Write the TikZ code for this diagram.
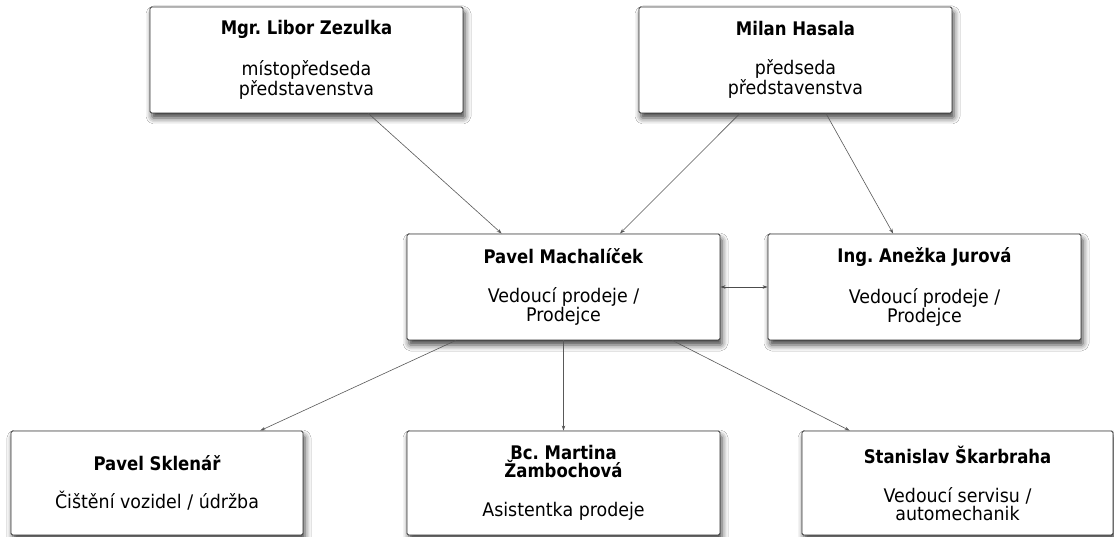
\documentclass[tikz,border=0pt]{standalone}
\usepackage{fontspec}
\setmainfont{DejaVu Sans}[FakeStretch=0.93, BoldFeatures={FakeStretch=0.88}]
\frenchspacing
\usetikzlibrary{arrows.meta,calc,shadows.blur}
\begin{document}
\begin{tikzpicture}[x=1pt,y=-1pt,
  box/.style={draw=black!80, line width=0.9pt, rounded corners=1.5pt, fill=white,
    minimum height=106pt, inner sep=0pt, align=center,
    font=\fontsize{18.75}{18}\selectfont,
    blur shadow={shadow xshift=2pt, shadow yshift=-5pt, shadow blur radius=6pt, shadow opacity=75}},
  conn/.style={draw=black!65, line width=0.6pt, -{Stealth[length=5pt,width=3.5pt]}},
  biconn/.style={draw=black!70, line width=0.6pt, {Stealth[length=5pt,width=3.5pt]}-{Stealth[length=5pt,width=3.5pt]}}
]
\useasboundingbox (0,0) rectangle (1114,537);
\fill[white] (0,0) rectangle (1114,537);

\node[box, minimum width=313pt] (zez) at (306.5,60) {\textbf{Mgr. Libor Zezulka}\\[21pt]místopředseda\\představenstva};
\node[box, minimum width=313pt] (has) at (795.5,60) {\textbf{Milan Hasala}\\[21pt]předseda\\představenstva};
\node[box, minimum width=313pt] (mach) at (563.5,287) {\textbf{Pavel Machalíček}\\[21pt]Vedoucí prodeje /\\Prodejce};
\node[box, minimum width=313pt] (jur) at (924.5,287) {\textbf{Ing. Anežka Jurová}\\[21pt]Vedoucí prodeje /\\Prodejce};
\node[box, minimum width=292pt, minimum height=104pt] (skl) at (157,483) {\textbf{Pavel Sklenář}\\[20pt]Čištění vozidel / údržba};
\node[box, minimum width=313pt, minimum height=104pt] (mart) at (563.5,483) {\textbf{Bc. Martina}\\\textbf{Žambochová}\\[21pt]Asistentka prodeje};
\node[box, minimum width=311pt, minimum height=104pt] (skar) at (957.5,483) {\textbf{Stanislav Škarbraha}\\[21pt]Vedoucí servisu /\\automechanik};

\draw[conn] ($(zez.south west)!0.697!(zez.south east)$) -- ($(mach.north west)!0.303!(mach.north east)$);
\draw[conn] ($(has.south west)!0.323!(has.south east)$) -- ($(mach.north west)!0.68!(mach.north east)$);
\draw[conn] ($(has.south west)!0.597!(has.south east)$) -- ($(jur.north west)!0.40!(jur.north east)$);
\draw[biconn] (mach.east) -- (jur.west);
\draw[conn] ($(mach.south west)!0.157!(mach.south east)$) -- ($(skl.north west)!0.853!(skl.north east)$);
\draw[conn] (mach.south) -- (mart.north);
\draw[conn] ($(mach.south west)!0.847!(mach.south east)$) -- ($(skar.north west)!0.154!(skar.north east)$);
\end{tikzpicture}
\end{document}
